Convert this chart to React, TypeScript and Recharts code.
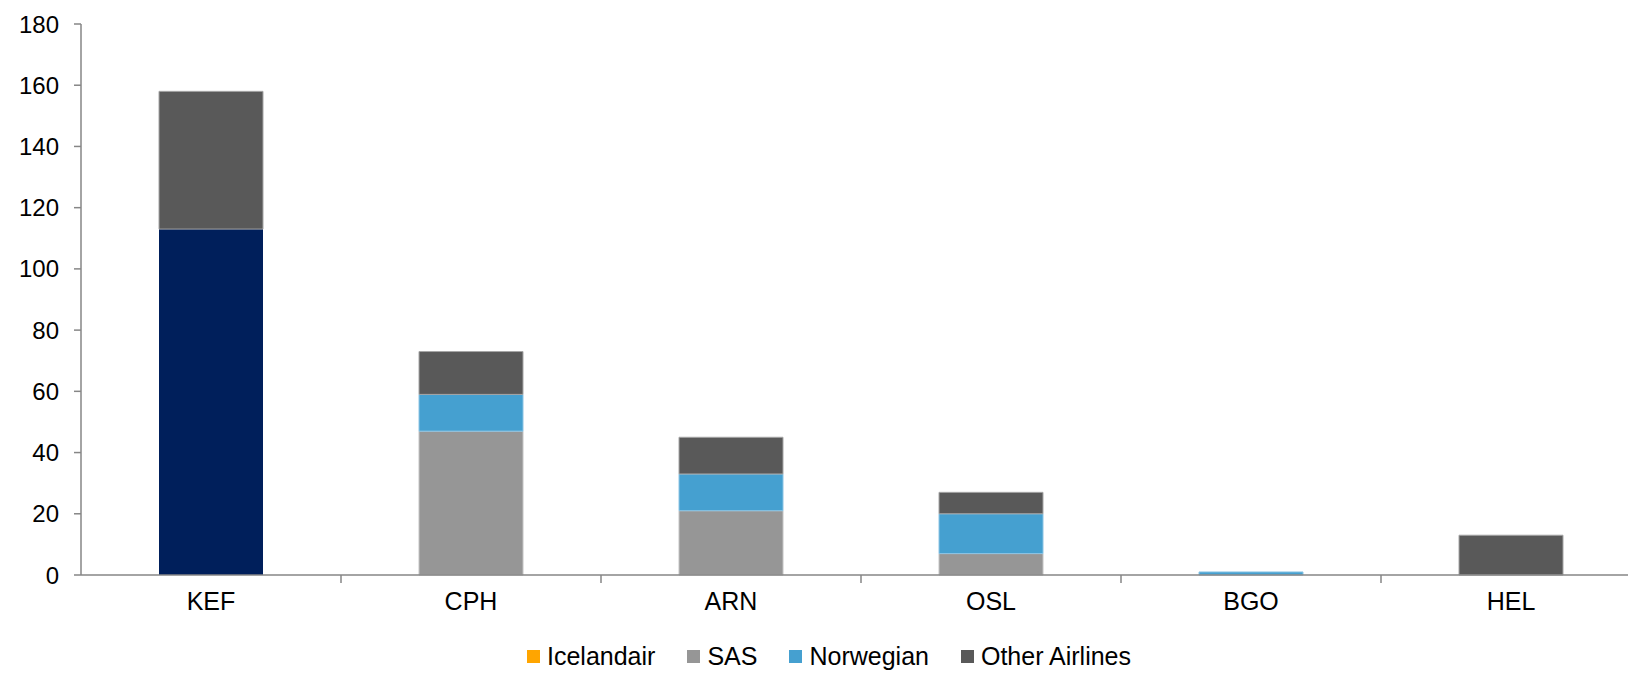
import { BarChart, Bar, XAxis, YAxis, Cell } from 'recharts'

// 机场与各航空公司座位数
const airports = ['KEF', 'CPH', 'ARN', 'OSL', 'BGO', 'HEL']
const icelandair = [113, 0, 0, 0, 0, 0]
const sas = [0, 47, 21, 7, 0, 0]
const norwegian = [0, 12, 12, 13, 1, 0]
const otherAirlines = [45, 14, 12, 7, 0, 13]
const yTicks = [0, 20, 40, 60, 80, 100, 120, 140, 160, 180]

const data = airports.map((name, i) => ({
  name,
  icelandair: icelandair[i],
  sas: sas[i],
  norwegian: norwegian[i],
  other: otherAirlines[i],
}))

const CHART_W = 1680
const CHART_H = 674
const LEFT = 81
const RIGHT_EDGE = 1641
const BAND = (RIGHT_EDGE - LEFT) / airports.length
const FONT = '"Liberation Sans", Arial, sans-serif'
const AXIS = '#868686'

const legendItems = [
  { label: 'Icelandair', color: '#FFA500' },
  { label: 'SAS', color: '#969696' },
  { label: 'Norwegian', color: '#45A0D0' },
  { label: 'Other Airlines', color: '#595959' },
]

/**
 * X 轴刻度：标签居中，刻度线在类别边界
 */
function CategoryTick(props: any) {
  const { x, y, payload, index } = props
  return (
    <g>
      {index > 0 && (
        <line x1={x - BAND / 2} x2={x - BAND / 2} y1={y - 8} y2={y} stroke={AXIS} strokeWidth={1.5} />
      )}
      <text x={x} y={y + 27} textAnchor="middle" fill="#000" fontSize={25} fontFamily={FONT}>
        {payload.value}
      </text>
    </g>
  )
}

export default function App() {
  return (
    <div
      style={{
        position: 'fixed',
        left: 0,
        top: 0,
        width: 1628,
        height: 674,
        overflow: 'hidden',
        background: '#fff',
      }}
    >
      <BarChart
        width={CHART_W}
        height={CHART_H}
        data={data}
        margin={{ top: 24, right: CHART_W - RIGHT_EDGE, left: 0, bottom: 49 }}
        barCategoryGap="30%"
      >
        <XAxis
          dataKey="name"
          height={50}
          stroke={AXIS}
          strokeWidth={1.5}
          tickLine={false}
          tickSize={8}
          tickMargin={0}
          tick={<CategoryTick />}
          interval={0}
        />
        <YAxis
          width={LEFT}
          domain={[0, 180]}
          ticks={yTicks}
          stroke={AXIS}
          strokeWidth={1.5}
          tickSize={7}
          tickMargin={15}
          tick={{ fill: '#000', fontSize: 24, fontFamily: FONT }}
          interval={0}
        />
        <Bar dataKey="icelandair" stackId="a" fill="#FFA500" isAnimationActive={false}>
          {data.map((d, i) => (
            <Cell key={d.name} fill={i === 0 ? '#001F5B' : '#FFA500'} />
          ))}
        </Bar>
        <Bar dataKey="sas" stackId="a" fill="#969696" stroke="#c4c4c4" strokeWidth={1} isAnimationActive={false} />
        <Bar dataKey="norwegian" stackId="a" fill="#45A0D0" stroke="#8cc4e4" strokeWidth={1} isAnimationActive={false} />
        <Bar dataKey="other" stackId="a" fill="#595959" stroke="#a6a6a6" strokeWidth={1} isAnimationActive={false} />
      </BarChart>

      {/* 图例 */}
      <div
        style={{
          position: 'absolute',
          left: 527,
          top: 642,
          display: 'flex',
          alignItems: 'center',
          fontFamily: FONT,
          fontSize: 25,
          color: '#000',
          lineHeight: '29px',
        }}
      >
        {legendItems.map(item => (
          <div key={item.label} style={{ display: 'flex', alignItems: 'center', marginRight: 32 }}>
            <span style={{ width: 13, height: 13, background: item.color, marginRight: 7, display: 'inline-block' }} />
            <span>{item.label}</span>
          </div>
        ))}
      </div>
    </div>
  )
}
